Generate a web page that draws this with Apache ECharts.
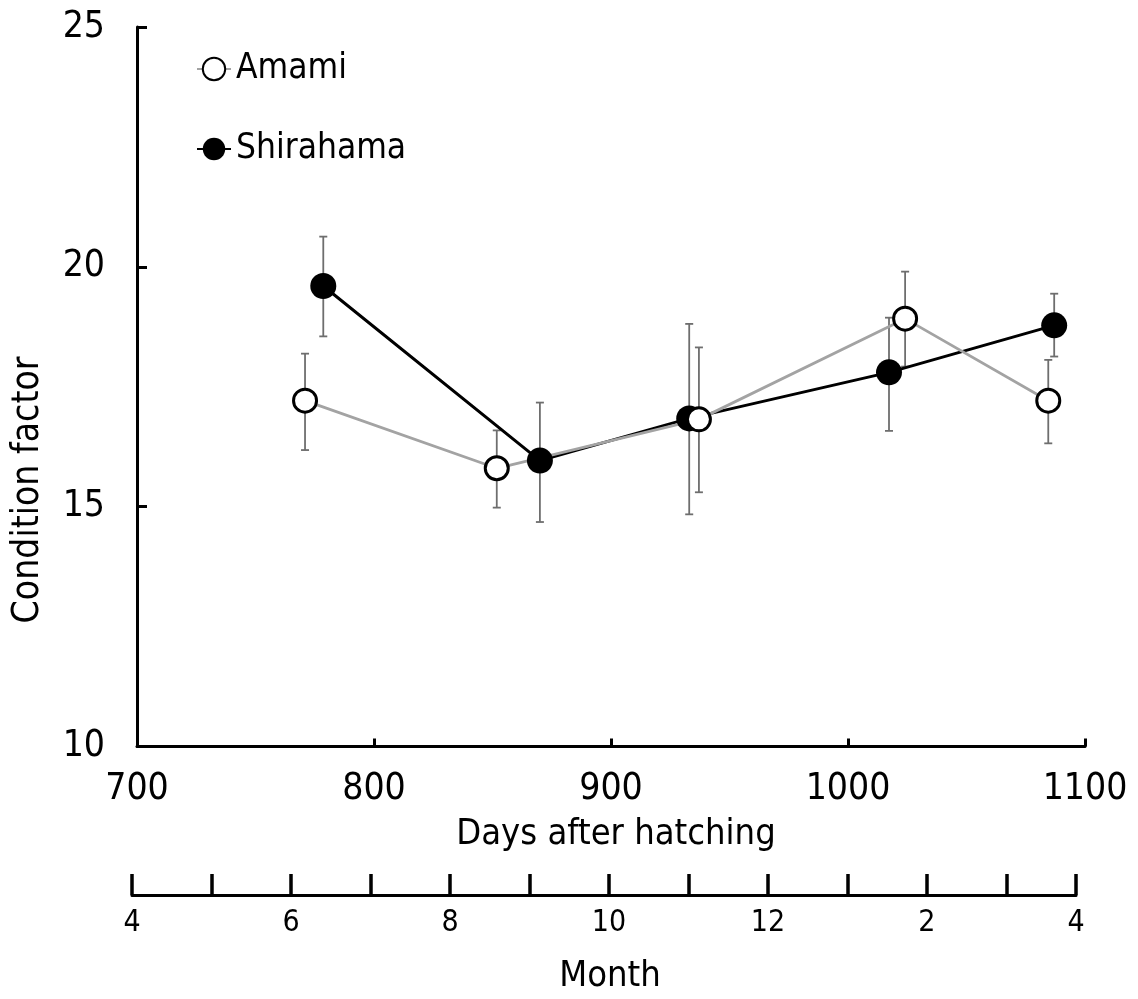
<!DOCTYPE html>
<html>
<head>
<meta charset="utf-8">
<script src="https://cdn.jsdelivr.net/npm/echarts@6/dist/echarts.min.js"></script>
<style>
  html, body { margin: 0; padding: 0; background: #fff; }
  #chart { width: 1138px; height: 999px; }
</style>
</head>
<body>
<div id="chart"></div>
<script>
// Condition factor of the two populations, mean with ± error bars
const FONT = "'Liberation Sans Narrow', 'DejaVu Sans Condensed', 'Noto Sans CJK JP', sans-serif";

const seriesNames = ['Amami', 'Shirahama'];

const amamiDays = [770.9, 851.8, 937.1, 1024.1, 1084.5];
const amamiMean = [17.21, 15.80, 16.82, 18.92, 17.21];
const amamiLow  = [16.18, 14.98, 15.30, 17.92, 16.32];
const amamiHigh = [18.19, 16.59, 18.32, 19.90, 18.06];

const shiraDays = [778.6, 870.0, 933.0, 1017.3, 1087.0];
const shiraMean = [19.60, 15.96, 16.84, 17.80, 18.78];
const shiraLow  = [18.55, 14.68, 14.84, 16.58, 18.13];
const shiraHigh = [20.63, 17.17, 18.81, 18.94, 19.44];

const dayTicks = [700, 800, 900, 1000, 1100];
const yTicks = [10, 15, 20, 25];
// calendar month under each tick of the lower scale (April to April)
const monthLabels = ['4', '', '6', '', '8', '', '10', '', '12', '', '2', '', '4'];

const pairs = (xs, ys) => xs.map((x, i) => [x, ys[i]]);

function errorBars(name, days, low, high) {
  return {
    type: 'custom',
    name: name,
    xAxisIndex: 0,
    yAxisIndex: 0,
    z: 1,
    silent: true,
    data: days.map((d, i) => [d, low[i], high[i]]),
    encode: { x: 0, y: [1, 2] },
    renderItem(params, api) {
      const top = api.coord([api.value(0), api.value(2)]);
      const bot = api.coord([api.value(0), api.value(1)]);
      const w = 4;
      const style = { stroke: '#6e6e6e', lineWidth: 1.8 };
      return {
        type: 'group',
        children: [
          { type: 'line', shape: { x1: top[0], y1: top[1], x2: bot[0], y2: bot[1] }, style },
          { type: 'line', shape: { x1: top[0] - w, y1: top[1], x2: top[0] + w, y2: top[1] }, style },
          { type: 'line', shape: { x1: bot[0] - w, y1: bot[1], x2: bot[0] + w, y2: bot[1] }, style }
        ]
      };
    }
  };
}

const chart = echarts.init(document.getElementById('chart'));

chart.setOption({
  animation: false,
  backgroundColor: '#fff',
  textStyle: { fontFamily: FONT, color: '#000' },
  legend: {
    data: seriesNames,
    orient: 'vertical',
    left: 191,
    top: 44,
    itemWidth: 34,
    itemHeight: 28,
    itemGap: 40,
    selectedMode: false,
    textStyle: { fontFamily: FONT, fontSize: 35, lineHeight: 40, color: '#000', padding: [0, 0, 0, 0] }
  },
  graphic: [
    {
      type: 'text',
      x: 28,
      y: 490,
      rotation: Math.PI / 2,
      style: {
        text: 'Condition factor',
        font: "37px " + FONT,
        fill: '#000',
        align: 'center',
        verticalAlign: 'middle'
      }
    }
  ],
  grid: [
    { left: 137, right: 53, top: 27, bottom: 252.5 },
    { left: 132, right: 62, top: 850, bottom: 104 }
  ],
  xAxis: [
    {
      type: 'value',
      gridIndex: 0,
      min: dayTicks[0],
      max: dayTicks[dayTicks.length - 1],
      interval: dayTicks[1] - dayTicks[0],
      name: 'Days after hatching',
      nameLocation: 'middle',
      nameGap: 70,
      nameTextStyle: { fontFamily: FONT, fontSize: 36, color: '#000', padding: [0, 0, 0, 10] },
      axisLine: { lineStyle: { color: '#000', width: 3 } },
      axisTick: { inside: true, length: 8, lineStyle: { color: '#000', width: 3 } },
      axisLabel: { fontFamily: FONT, fontSize: 37, color: '#000', margin: 24, formatter: v => String(v) },
      splitLine: { show: false }
    },
    {
      type: 'value',
      gridIndex: 1,
      min: 0,
      max: 11.875,
      interval: 1,
      name: 'Month',
      nameLocation: 'middle',
      nameGap: 64,
      nameTextStyle: { fontFamily: FONT, fontSize: 36, color: '#000', padding: [0, 0, 0, 12] },
      axisLine: { lineStyle: { color: '#000', width: 3 } },
      axisTick: { inside: true, length: 21, lineStyle: { color: '#000', width: 3.5 } },
      axisLabel: {
        fontFamily: FONT, fontSize: 30, color: '#000', margin: 13,
        interval: 0, showMinLabel: true, showMaxLabel: true,
        formatter: v => monthLabels[Math.round(v)]
      },
      splitLine: { show: false }
    }
  ],
  yAxis: [
    {
      type: 'value',
      gridIndex: 0,
      min: yTicks[0],
      max: yTicks[yTicks.length - 1],
      interval: yTicks[1] - yTicks[0],
      axisLine: { show: true, lineStyle: { color: '#000', width: 3 } },
      axisTick: { show: true, inside: true, length: 10, lineStyle: { color: '#000', width: 3 } },
      axisLabel: { fontFamily: FONT, fontSize: 37, color: '#000', margin: 32 },
      splitLine: { show: false }
    },
    { type: 'value', gridIndex: 1, min: 0, max: 1, show: false }
  ],
  series: [
    errorBars('Shirahama SD', shiraDays, shiraLow, shiraHigh),
    errorBars('Amami SD', amamiDays, amamiLow, amamiHigh),
    {
      name: 'Shirahama',
      type: 'line',
      xAxisIndex: 0,
      yAxisIndex: 0,
      data: pairs(shiraDays, shiraMean),
      symbol: 'circle',
      symbolSize: 26,
      z: 2,
      lineStyle: { color: '#000', width: 3 },
      itemStyle: { color: '#000', borderColor: '#000', borderWidth: 0 }
    },
    {
      name: 'Amami',
      type: 'line',
      xAxisIndex: 0,
      yAxisIndex: 0,
      data: pairs(amamiDays, amamiMean),
      symbol: 'circle',
      symbolSize: 23,
      z: 2,
      lineStyle: { color: '#a3a3a3', width: 2.8 },
      itemStyle: { color: '#fff', borderColor: '#000', borderWidth: 3 }
    }
  ]
});
</script>
</body>
</html>
